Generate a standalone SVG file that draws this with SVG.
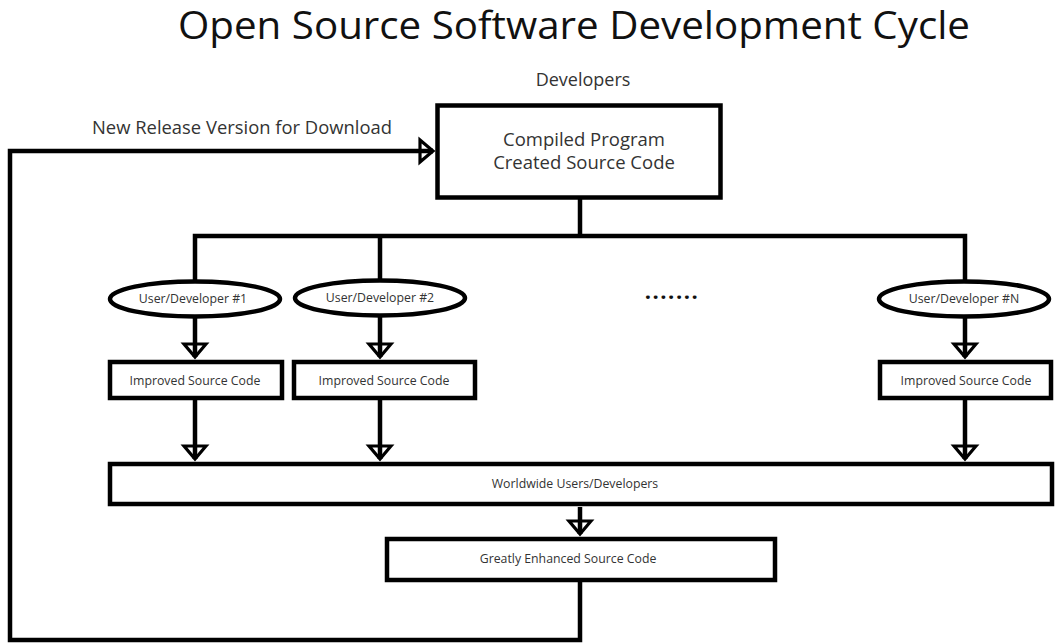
<svg xmlns="http://www.w3.org/2000/svg" width="1055" height="644" viewBox="0 0 1055 644">
<defs>
<style>
text{font-family:"Open Sans","Noto Sans","Liberation Sans",sans-serif;fill:#333;}
.title{font-size:38px;fill:#111;}
.lbl{font-size:18px;}
.box-t{font-size:18.5px;}
.sm{font-size:12.3px;text-anchor:middle;}
.node rect,.node ellipse{fill:#fff;stroke:#000;stroke-width:4.5;}
.conn path{fill:none;stroke:#000;stroke-width:4.5;stroke-linejoin:miter;stroke-linecap:butt;}
</style>
<marker id="arr" markerUnits="userSpaceOnUse" markerWidth="40" markerHeight="40" viewBox="-20 -20 40 40" refX="0" refY="0" orient="auto">
<path d="M-13,-11 L0,0 L-13,11 Z" fill="#fff" stroke="#000" stroke-width="3.2" stroke-linejoin="miter"/>
<path d="M-14,0 L0,0" stroke="#000" stroke-width="4.5"/>
</marker>
</defs>
<rect width="1055" height="644" fill="#fff"/>
<text class="title" x="178" y="39" textLength="792" lengthAdjust="spacingAndGlyphs">Open Source Software Development Cycle</text>
<text class="lbl" x="583" y="86" text-anchor="middle">Developers</text>
<text class="lbl" x="92" y="134" textLength="300" lengthAdjust="spacingAndGlyphs">New Release Version for Download</text>

<g class="conn">
<path d="M580,199 V236"/>
<path d="M195,281 V236 H965 V281"/>
<path d="M380,236 V280"/>
<path d="M195,317 V357" marker-end="url(#arr)"/>
<path d="M380,316 V357" marker-end="url(#arr)"/>
<path d="M965,317 V357" marker-end="url(#arr)"/>
<path d="M195,400 V459" marker-end="url(#arr)"/>
<path d="M380,400 V459" marker-end="url(#arr)"/>
<path d="M965,400 V459" marker-end="url(#arr)"/>
<path d="M580,507 V534" marker-end="url(#arr)"/>
<path d="M580,582 V640 H10 V151 H433" marker-end="url(#arr)"/>
<text x="672" y="299" text-anchor="middle" style="font-size:22px;font-weight:bold;fill:#111;letter-spacing:1.5px">.......</text>
</g>

<g id="main" class="node">
<rect x="437.5" y="105.5" width="283" height="92"/>
<text class="box-t" x="584" y="146" text-anchor="middle">Compiled Program</text>
<text class="box-t" x="584" y="169" text-anchor="middle">Created Source Code</text>
</g>

<g id="ud1" class="node">
<ellipse cx="195" cy="299" rx="85" ry="17.5"/>
<text class="sm" x="193" y="303">User/Developer #1</text>
</g>
<g id="ud2" class="node">
<ellipse cx="380" cy="298" rx="85" ry="17.5"/>
<text class="sm" x="380" y="302">User/Developer #2</text>
</g>
<g id="udN" class="node">
<ellipse cx="964" cy="299" rx="85" ry="17.5"/>
<text class="sm" x="964" y="303">User/Developer #N</text>
</g>

<g id="isc1" class="node">
<rect x="110" y="362" width="172" height="36"/>
<text class="sm" x="195" y="385">Improved Source Code</text>
</g>
<g id="isc2" class="node">
<rect x="294" y="362" width="181" height="36"/>
<text class="sm" x="384" y="385">Improved Source Code</text>
</g>
<g id="iscN" class="node">
<rect x="880" y="362" width="171" height="36"/>
<text class="sm" x="966" y="385">Improved Source Code</text>
</g>

<g id="world" class="node">
<rect x="110" y="464" width="942" height="40"/>
<text class="sm" x="575" y="488">Worldwide Users/Developers</text>
</g>

<g id="enh" class="node">
<rect x="387" y="539" width="388" height="41"/>
<text class="sm" x="568" y="563">Greatly Enhanced Source Code</text>
</g>
</svg>
